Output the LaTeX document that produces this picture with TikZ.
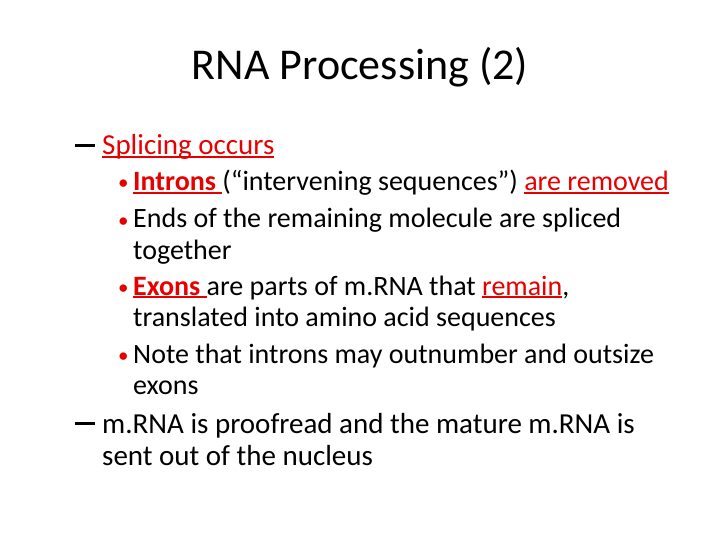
\documentclass[tikz,border=0pt]{standalone}
\usepackage{fontspec}
\setmainfont{Carlito}
\definecolor{rd}{RGB}{230,0,0}
\newlength{\ulw}
\newcommand{\ulx}[1]{\settowidth{\ulw}{#1}\rlap{\rule[-0.09em]{\ulw}{0.06em}}#1}
\begin{document}
\begin{tikzpicture}[x=1pt,y=-1pt,
  tl/.style={anchor=base,font=\fontsize{44}{48}\selectfont},
  lone/.style={anchor=base west,inner sep=0,font=\fontsize{29}{33}\selectfont},
  ltwo/.style={anchor=base west,inner sep=0,font=\fontsize{28}{32}\selectfont},
  bul/.style={anchor=base west,inner sep=0,font=\fontsize{21}{24}\selectfont,text=rd},
  dsh/.style={anchor=base west,inner sep=0}]
\useasboundingbox (0,0) rectangle (720,540);
\node[tl] (t) at (360,80) {RNA Processing (2)};
\node[dsh] (ad) at (75,155) {\rule[8pt]{20pt}{2.6pt}};
\node[lone] (a) at (102,155) {\textcolor{rd}{\ulx{Splicing occurs}}};
\node[bul] (d1) at (118,190) {•};
\node[ltwo] (b1) at (133,191) {\textcolor{rd}{\ulx{\textbf{Introns} }}(“intervening sequences”) \textcolor{rd}{\ulx{are removed}}};
\node[bul] (d2) at (118,227) {•};
\node[ltwo] (b2) at (133,228) {Ends of the remaining molecule are spliced};
\node[ltwo] (b2b) at (133,259) {together};
\node[bul] (d3) at (118,294) {•};
\node[ltwo] (b3) at (133,295) {\textcolor{rd}{\ulx{\textbf{Exons} }}are parts of m.RNA that \textcolor{rd}{\ulx{remain}},};
\node[ltwo] (b3b) at (133,326) {translated into amino acid sequences};
\node[bul] (d4) at (118,362) {•};
\node[ltwo] (b4) at (133,363) {Note that introns may outnumber and outsize};
\node[ltwo] (b4b) at (133,394) {exons};
\node[dsh] (cd) at (75,433) {\rule[8pt]{20pt}{2.6pt}};
\node[lone] (c) at (102,433) {m.RNA is proofread and the mature m.RNA is};
\node[lone] (cb) at (102,465) {sent out of the nucleus};
\end{tikzpicture}
\end{document}
